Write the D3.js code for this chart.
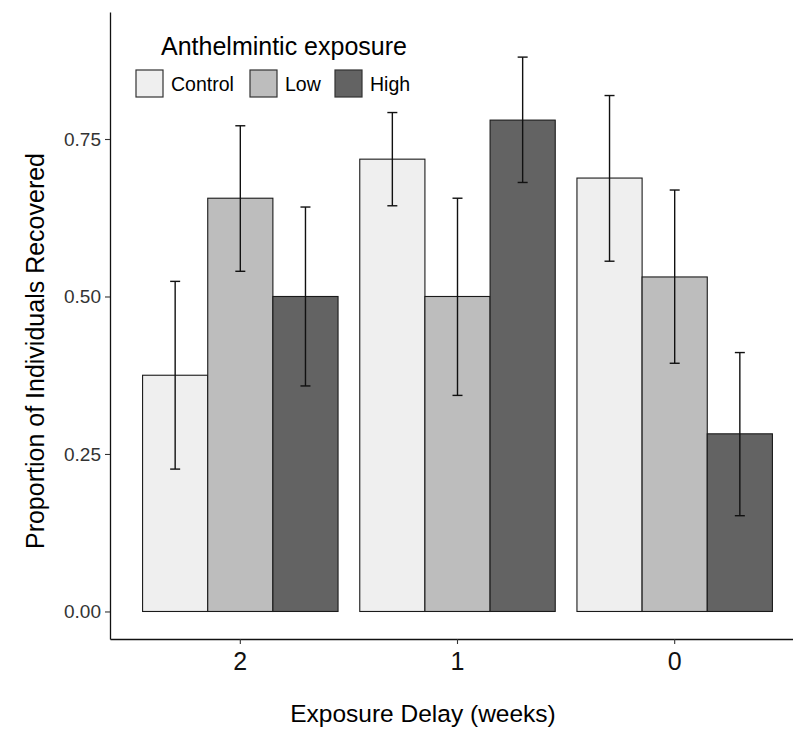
<!DOCTYPE html>
<html>
<head>
<meta charset="utf-8">
<script src="https://cdn.jsdelivr.net/npm/d3@7"></script>
<style>
  body { margin: 0; background: #fff; }
  svg { display: block; font-family: "Liberation Sans", Arial, sans-serif; }
</style>
</head>
<body>
<svg class="chart"></svg>
<script>
// categories and series
const delays = ['2', '1', '0'];
const groups = ['Control', 'Low', 'High'];
const controlVals = [0.375, 0.718, 0.688];
const lowVals = [0.656, 0.500, 0.531];
const highVals = [0.500, 0.780, 0.282];
const controlLo = [0.226, 0.644, 0.556];
const controlHi = [0.524, 0.792, 0.819];
const lowLo = [0.540, 0.343, 0.394];
const lowHi = [0.771, 0.656, 0.669];
const highLo = [0.358, 0.681, 0.152];
const highHi = [0.642, 0.880, 0.411];
const yTicks = [0, 0.25, 0.5, 0.75];

const fills = { Control: '#efefef', Low: '#bdbdbd', High: '#636363' };

// build rows for drawing
const series = {
  Control: { v: controlVals, lo: controlLo, hi: controlHi },
  Low: { v: lowVals, lo: lowLo, hi: lowHi },
  High: { v: highVals, lo: highLo, hi: highHi }
};
const rows = [];
delays.forEach((d, i) => {
  groups.forEach(g => {
    rows.push({ delay: d, group: g, value: series[g].v[i], lo: series[g].lo[i], hi: series[g].hi[i] });
  });
});

const svgWidth = 793;
const svgHeight = 732;

const svg = d3.select('.chart')
  .attr('width', svgWidth)
  .attr('height', svgHeight);

// panel: left 110, bottom 639, top 12, right runs off the picture
const x = d3.scaleBand()
  .domain(delays)
  .range([110, 805])
  .paddingInner(0.1)
  .paddingOuter(0.15);

const xInner = d3.scaleBand()
  .domain(groups)
  .range([0, x.bandwidth()]);

const y = d3.scaleLinear()
  .domain([-0.0437, 0.9516])
  .range([639, 12]);

// bars
svg.append('g').selectAll('rect')
  .data(rows)
  .enter()
  .append('rect')
  .attr('x', d => x(d.delay) + xInner(d.group))
  .attr('y', d => y(d.value))
  .attr('width', xInner.bandwidth())
  .attr('height', d => y(0) - y(d.value))
  .attr('fill', d => fills[d.group])
  .attr('stroke', '#1a1a1a')
  .attr('stroke-width', 1.1);

// error bars
const eb = svg.append('g')
  .attr('stroke', '#111')
  .attr('stroke-width', 1.4)
  .attr('fill', 'none');

const cx = d => x(d.delay) + xInner(d.group) + xInner.bandwidth() / 2;
const capHalf = 5;

eb.selectAll('.stem').data(rows).enter().append('line')
  .attr('x1', cx).attr('x2', cx)
  .attr('y1', d => y(d.lo)).attr('y2', d => y(d.hi));
eb.selectAll('.capTop').data(rows).enter().append('line')
  .attr('x1', d => cx(d) - capHalf).attr('x2', d => cx(d) + capHalf)
  .attr('y1', d => y(d.hi)).attr('y2', d => y(d.hi));
eb.selectAll('.capBot').data(rows).enter().append('line')
  .attr('x1', d => cx(d) - capHalf).attr('x2', d => cx(d) + capHalf)
  .attr('y1', d => y(d.lo)).attr('y2', d => y(d.lo));

// y axis
const yAxis = svg.append('g')
  .attr('transform', 'translate(110,0)')
  .call(d3.axisLeft(y).tickValues(yTicks).tickFormat(d3.format('.2f')).tickSize(5).tickSizeOuter(0).tickPadding(4));
yAxis.select('.domain').attr('stroke', '#111').attr('stroke-width', 1.3);
yAxis.selectAll('.tick line').attr('stroke', '#333').attr('stroke-width', 1.1);
yAxis.selectAll('.tick text')
  .attr('font-family', '"Liberation Sans", Arial, sans-serif')
  .attr('font-size', '19px')
  .attr('fill', '#333');

// x axis
const xAxis = svg.append('g')
  .attr('transform', 'translate(0,639)')
  .call(d3.axisBottom(x).tickSize(5).tickSizeOuter(0).tickPadding(8));
xAxis.select('.domain').attr('stroke', '#111').attr('stroke-width', 1.3);
xAxis.selectAll('.tick line').attr('stroke', '#333').attr('stroke-width', 1.1);
xAxis.selectAll('.tick text')
  .attr('font-family', '"Liberation Sans", Arial, sans-serif')
  .attr('font-size', '25px')
  .attr('fill', '#111');

// axis titles
svg.append('text')
  .attr('x', 423)
  .attr('y', 722)
  .attr('text-anchor', 'middle')
  .attr('font-size', '24.5px')
  .attr('fill', '#000')
  .text('Exposure Delay (weeks)');

svg.append('text')
  .attr('transform', 'translate(44,351) rotate(-90)')
  .attr('text-anchor', 'middle')
  .attr('font-size', '25px')
  .attr('fill', '#000')
  .text('Proportion of Individuals Recovered');

// legend
const legend = svg.append('g');
legend.append('text')
  .attr('x', 161)
  .attr('y', 55)
  .attr('font-size', '25px')
  .attr('fill', '#000')
  .text('Anthelmintic exposure');

const keyX = [136, 250, 335];
groups.forEach((g, i) => {
  legend.append('rect')
    .attr('x', keyX[i])
    .attr('y', 70)
    .attr('width', 27)
    .attr('height', 27)
    .attr('fill', fills[g])
    .attr('stroke', '#333')
    .attr('stroke-width', 1.2);
  legend.append('text')
    .attr('x', keyX[i] + 35)
    .attr('y', 91)
    .attr('font-size', '19.5px')
    .attr('fill', '#000')
    .text(g);
});
</script>
</body>
</html>
